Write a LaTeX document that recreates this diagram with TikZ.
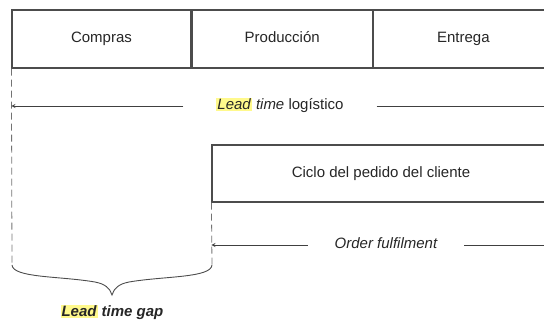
\documentclass[tikz,border=0pt]{standalone}
\usepackage{fontspec}
\setmainfont{Liberation Sans}
\usetikzlibrary{positioning, arrows}
\tikzset{
    >=stealth, % small filled arrow heads
    every node/.style={font=\fontsize{15}{17}\selectfont, text=black!85}, % text like the scan
    node distance=0pt, % boxes touch each other
}
\newcommand{\hlead}[1]{{\setlength{\fboxsep}{1pt}\colorbox{yellow!45}{#1}}}

\begin{document}
\begin{tikzpicture}[
                        x=1pt, y=-1pt,
                        phasebox/.style={draw=black!70, line width=1.2pt, minimum height=58pt, minimum width=180pt, inner sep=0pt, text height=11pt, text depth=3pt},
                        span/.style={black!75, line width=0.8pt},
                        guide/.style={black!55, line width=0.8pt, dash pattern=on 7pt off 4pt},
                    ]
    \useasboundingbox (0,0) rectangle (544,323);
    \clip (0,0) rectangle (544,323);
    \node[phasebox, minimum width=179pt] (compras) at (101.5,39) {Compras};
    \node[phasebox, right=of compras] (produccion) {Producción};
    \node[phasebox, right=of produccion] (entrega) {Entrega};
    \node[phasebox, minimum width=338pt, minimum height=57pt] (ciclo) at (381,173.5) {Ciclo del pedido del cliente};

    \node[inner xsep=33pt, text height=11pt, text depth=3pt] (ltlog) at (280,106) {\hlead{\itshape Lead} \textit{time} logístico};
    \node[inner xsep=27pt, text height=11pt, text depth=3pt] (order) at (386,245) {\itshape Order fulfilment};
    \node (gap) at (112,312) {\bfseries\itshape \hlead{Lead} time gap};

    \coordinate (gapL) at (12,265);
    \coordinate (gapR) at (212,265);
    \coordinate (ltend) at (560,106);
    \coordinate (orderend) at (560,245);

    \draw[guide] (compras.south west) -- (gapL);
    \draw[guide] (ciclo.south west) -- (gapR);

    \draw[span, ->] (ltlog) -- (compras.south west |- ltlog);
    \draw[span] (ltlog) -- (ltend);
    \draw[span, ->] (order) -- (ciclo.south west |- order);
    \draw[span] (order) -- (orderend);

    % the brace under the gap
    \draw[black!70, line width=0.9pt]
    (gapL) .. controls (13,278) and (60,276) .. (95,282)
    .. controls (105,284) and (110,288) .. (112,295)
    .. controls (114,288) and (119,284) .. (129,282)
    .. controls (164,276) and (211,278) .. (gapR);
\end{tikzpicture}
\end{document}
